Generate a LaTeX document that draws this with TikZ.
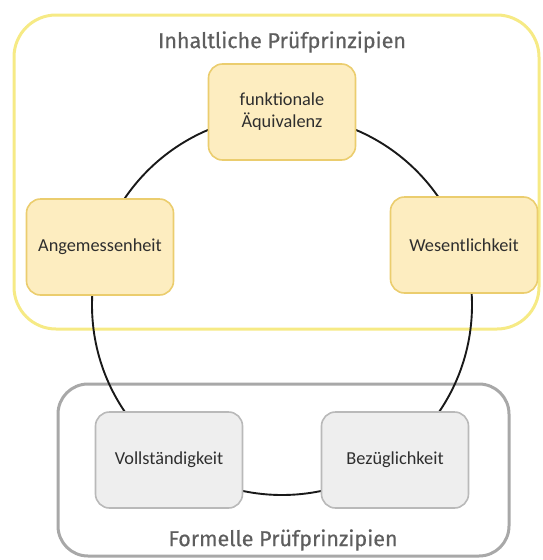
\documentclass[tikz,border=0pt]{standalone}
\usepackage{fontspec}
\setmainfont{Carlito}
\newfontfamily\titlefont{Fira Sans}[FakeBold=0.5]
\usetikzlibrary{calc}

\definecolor{rahmengelb}{HTML}{F6EA85}
\definecolor{rahmengrau}{HTML}{A8A8A8}
\definecolor{gelbfill}{HTML}{FDEDC0}
\definecolor{gelbline}{HTML}{EBCD6E}
\definecolor{graufill}{HTML}{EEEEEE}
\definecolor{grauline}{HTML}{B9B9B9}
\definecolor{textdunkel}{HTML}{2E2E2E}
\definecolor{titelgrau}{HTML}{5E5E5E}

\begin{document}
\begin{tikzpicture}[x=1pt,y=-1pt,
	prinzip/.style={rounded corners=14pt,line width=1.6pt,minimum width=147pt,minimum height=96pt,
		align=center,text=textdunkel,font=\fontsize{18.3}{22}\selectfont},
	inhalt/.style={prinzip,draw=gelbline,fill=gelbfill},
	formell/.style={prinzip,draw=grauline,fill=graufill},
	titel/.style={text=titelgrau,font=\titlefont\fontsize{21.5}{25}\selectfont},
	ring/.style={line width=1.9pt,black!90}]
				\useasboundingbox (0,0) rectangle (542,560);
				% Rahmen
				\draw[rahmengelb,line width=3pt,rounded corners=42pt] (14,15) rectangle (539,329);
				\draw[rahmengrau,line width=3pt,rounded corners=30pt] (58,384) rectangle (509,556);
				\node[titel] (tinhalt) at (282,42) {Inhaltliche Prüfprinzipien};
				\node[titel] (tformell) at (283,540) {Formelle Prüfprinzipien};
				% Kreis hinter den Prinzipien
				\coordinate (mitte) at (282,305);
				\draw[ring] (mitte) circle (190);
				% Prinzipien
				\node[inhalt] (fa) at (282,112) {funktionale\\Äquivalenz};
				\node[inhalt] (ang) at (100,247) {Angemessenheit};
				\node[inhalt] (wes) at (464,245) {Wesentlichkeit};
				\node[formell] (voll) at (169,460) {Vollständigkeit};
				\node[formell] (bez) at (395,460) {Bezüglichkeit};
\end{tikzpicture}
\end{document}
